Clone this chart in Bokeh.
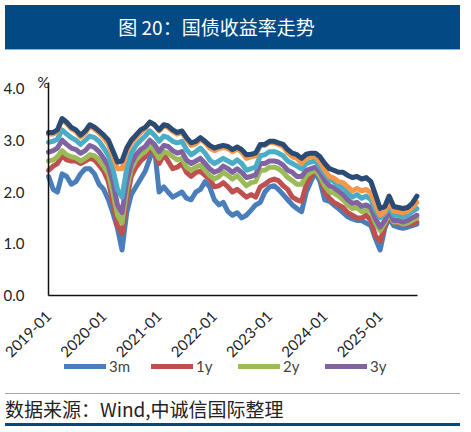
import math
import pandas as pd
from bokeh.plotting import figure
from bokeh.models import (FixedTicker, DatetimeTickFormatter, NumeralTickFormatter,
                          Legend, LegendItem, Label, Div, Range1d)
from bokeh.layouts import column
from bokeh.embed import file_html
from bokeh.resources import INLINE

# monthly points, 2019-01 .. 2025-09
dates = pd.date_range("2019-01-01", "2025-09-01", freq="MS")

y3m = [2.3, 2.05, 2.0, 2.35, 2.3, 2.15, 2.2, 2.35, 2.45, 2.45, 2.35, 2.15,
       2.05, 1.85, 1.6, 1.3, 0.88, 1.6, 1.95, 2.1, 2.25, 2.4, 2.65, 2.88,
       2.0, 2.1, 2.0, 1.9, 1.95, 2.0, 1.88, 1.85, 2.0, 2.05, 2.2, 2.1,
       1.85, 1.75, 1.8, 1.62, 1.55, 1.6, 1.5, 1.55, 1.65, 1.75, 1.8, 2.0,
       2.1, 2.12, 2.05, 1.95, 1.85, 1.75, 1.68, 1.62, 2.0, 2.2, 2.38, 2.2,
       1.85, 1.82, 1.75, 1.68, 1.6, 1.52, 1.48, 1.45, 1.45, 1.4, 1.35, 1.1,
       0.88, 1.3, 1.5, 1.35, 1.32, 1.3, 1.32, 1.35, 1.38]
y1y = [2.42, 2.5, 2.55, 2.7, 2.62, 2.6, 2.6, 2.55, 2.6, 2.65, 2.62, 2.52,
       2.4, 2.2, 1.8, 1.35, 1.2, 1.85, 2.3, 2.48, 2.6, 2.68, 2.85, 2.75,
       2.55, 2.72, 2.6, 2.45, 2.48, 2.55, 2.38, 2.3, 2.38, 2.4, 2.32, 2.25,
       2.1, 2.12, 2.18, 2.1, 2.0, 2.05, 1.98, 1.9, 1.95, 1.9, 2.1, 2.15,
       2.22, 2.25, 2.22, 2.12, 2.05, 1.9, 1.85, 1.82, 2.15, 2.3, 2.42, 2.3,
       2.0, 1.88, 1.8, 1.75, 1.7, 1.6, 1.55, 1.5, 1.5, 1.55, 1.45, 1.15,
       1.05, 1.35, 1.55, 1.42, 1.4, 1.38, 1.38, 1.38, 1.42]
y2y = [2.6, 2.62, 2.68, 2.8, 2.72, 2.68, 2.66, 2.6, 2.65, 2.72, 2.7, 2.62,
       2.5, 2.35, 2.0, 1.55, 1.4, 2.05, 2.45, 2.62, 2.72, 2.78, 2.9, 2.8,
       2.65, 2.78, 2.75, 2.68, 2.62, 2.65, 2.48, 2.42, 2.48, 2.52, 2.42, 2.32,
       2.25, 2.3, 2.38, 2.32, 2.25, 2.32, 2.22, 2.12, 2.18, 2.2, 2.42, 2.42,
       2.48, 2.48, 2.45, 2.38, 2.28, 2.22, 2.15, 2.15, 2.32, 2.38, 2.42, 2.3,
       2.12, 2.0, 1.98, 1.92, 1.85, 1.75, 1.68, 1.7, 1.62, 1.65, 1.62, 1.4,
       1.25, 1.4, 1.58, 1.42, 1.42, 1.38, 1.4, 1.45, 1.5]
y3y = [2.77, 2.8, 2.85, 3.0, 2.92, 2.85, 2.82, 2.75, 2.8, 2.9, 2.86, 2.78,
       2.65, 2.5, 2.2, 1.75, 1.6, 2.2, 2.55, 2.72, 2.82, 2.88, 3.0, 2.92,
       2.78, 2.9, 2.88, 2.8, 2.75, 2.78, 2.62, 2.55, 2.6, 2.65, 2.55, 2.45,
       2.38, 2.42, 2.5, 2.45, 2.38, 2.45, 2.38, 2.28, 2.3, 2.33, 2.55, 2.55,
       2.6, 2.6, 2.58, 2.52, 2.42, 2.38, 2.3, 2.3, 2.42, 2.45, 2.48, 2.38,
       2.22, 2.12, 2.08, 2.02, 1.95, 1.85, 1.78, 1.8, 1.72, 1.75, 1.7, 1.48,
       1.32, 1.45, 1.62, 1.45, 1.45, 1.42, 1.45, 1.5, 1.55]
y5y = [2.96, 2.98, 3.02, 3.2, 3.12, 3.05, 3.0, 2.92, 3.0, 3.08, 3.05, 2.98,
       2.85, 2.7, 2.45, 2.05, 1.9, 2.45, 2.75, 2.9, 3.0, 3.08, 3.18, 3.1,
       2.98, 3.08, 3.05, 2.98, 2.95, 2.98, 2.82, 2.72, 2.78, 2.85, 2.75, 2.62,
       2.55, 2.6, 2.65, 2.6, 2.55, 2.62, 2.55, 2.42, 2.45, 2.48, 2.7, 2.72,
       2.78, 2.78, 2.75, 2.7, 2.6, 2.55, 2.5, 2.45, 2.55, 2.58, 2.6, 2.48,
       2.35, 2.25, 2.2, 2.12, 2.08, 1.98, 1.9, 1.95, 1.88, 1.92, 1.85, 1.65,
       1.5, 1.58, 1.72, 1.55, 1.55, 1.52, 1.55, 1.62, 1.68]
y7y = [3.12, 3.12, 3.17, 3.4, 3.32, 3.22, 3.17, 3.06, 3.14, 3.27, 3.22, 3.14,
       3.05, 2.92, 2.7, 2.45, 2.45, 2.78, 2.95, 3.05, 3.15, 3.22, 3.35, 3.3,
       3.18, 3.28, 3.25, 3.17, 3.12, 3.15, 3.02, 2.9, 2.93, 3.02, 2.95, 2.85,
       2.8, 2.84, 2.86, 2.84, 2.78, 2.83, 2.77, 2.65, 2.68, 2.7, 2.9, 2.9,
       2.96, 2.95, 2.92, 2.88, 2.76, 2.68, 2.65, 2.55, 2.65, 2.68, 2.68, 2.58,
       2.42, 2.3, 2.27, 2.2, 2.18, 2.1, 2.02, 2.07, 2.02, 2.05, 1.98, 1.75,
       1.55, 1.62, 1.82, 1.63, 1.62, 1.6, 1.63, 1.7, 1.8]
y10y = [3.15, 3.15, 3.2, 3.42, 3.35, 3.25, 3.2, 3.1, 3.18, 3.3, 3.25, 3.18,
        3.1, 3.0, 2.8, 2.58, 2.6, 2.85, 3.0, 3.1, 3.2, 3.25, 3.35, 3.3,
        3.2, 3.3, 3.28, 3.2, 3.15, 3.18, 3.05, 2.95, 2.98, 3.05, 2.98, 2.9,
        2.85, 2.88, 2.9, 2.88, 2.82, 2.87, 2.82, 2.72, 2.73, 2.75, 2.92, 2.92,
        2.98, 2.98, 2.95, 2.92, 2.82, 2.75, 2.72, 2.65, 2.73, 2.75, 2.75, 2.68,
        2.55, 2.45, 2.42, 2.38, 2.38, 2.32, 2.28, 2.3, 2.25, 2.28, 2.2, 1.95,
        1.68, 1.72, 1.92, 1.72, 1.7, 1.68, 1.7, 1.78, 1.92]

series = [("3m", y3m, "#4a7ebb"), ("1y", y1y, "#c0504d"), ("2y", y2y, "#9bbb59"),
          ("3y", y3y, "#8064a2"), ("5y", y5y, "#4bacc6"), ("7y", y7y, "#f79646"),
          ("10y", y10y, "#2a4b73")]
legend_names = ["3m", "1y", "2y", "3y"]
year_ticks = [pd.Timestamp(f"{y}-01-01").value // 10**6 for y in range(2019, 2026)]
y_ticks = [0, 1, 2, 3, 4]

FONT = "Lato"

# the whole chart lives inside the frame (455 x 329), axes are pinned inside it
W, H = 455, 329
ax_left, ax_right = 48, 417          # pixel position of the axis span
ax_zero, ax_px = 240, 51.75          # pixel row of y=0 (from top), px per 1.0
x0 = pd.Timestamp("2019-01-01").value // 10**6
x1 = pd.Timestamp("2025-09-05").value // 10**6
ms_per_px = (x1 - x0) / (ax_right - ax_left)

p = figure(width=W, height=H, x_axis_type="datetime", output_backend="svg",
           toolbar_location=None,
           x_range=Range1d(x0 - ax_left * ms_per_px, x1 + (W - ax_right) * ms_per_px),
           y_range=Range1d(-(H - ax_zero) / ax_px, ax_zero / ax_px),
           min_border=0)
p.outline_line_color = None
p.xgrid.grid_line_color = None
p.ygrid.grid_line_color = None

renderers = {}
for name, vals, col in series:
    r = p.line(dates, vals, color=col, line_width=5, line_join="round", line_cap="round")
    renderers[name] = r

# axes
p.xaxis.fixed_location = 0
p.xaxis.bounds = (x0, x1)
p.xaxis.ticker = FixedTicker(ticks=year_ticks)
p.xaxis.formatter = DatetimeTickFormatter(years="%Y-%m", months="%Y-%m", days="%Y-%m")
p.xaxis.major_label_orientation = math.pi / 4
p.yaxis.fixed_location = x0
p.yaxis.bounds = (0, 4.12)
p.yaxis.ticker = FixedTicker(ticks=y_ticks)
p.yaxis.formatter = NumeralTickFormatter(format="0.0")
for ax in (p.xaxis, p.yaxis):
    ax.axis_line_color = "#111111"
    ax.axis_line_width = 1.5
    ax.major_tick_line_color = None
    ax.minor_tick_line_color = None
    ax.major_label_text_font = FONT
    ax.major_label_text_font_size = "15px"
    ax.major_label_text_color = "#222222"
p.yaxis.major_label_standoff = 18
p.xaxis.major_label_standoff = 12

p.add_layout(Label(x=x0, y=4.0, text="%", x_offset=-5, y_offset=-2, text_align="center",
                   text_baseline="bottom", text_font=FONT, text_font_size="15px",
                   text_color="#222222"))

legend = Legend(items=[LegendItem(label=n, renderers=[renderers[n]]) for n in legend_names],
                orientation="horizontal", location=(64, 9), glyph_width=42, glyph_height=14,
                label_standoff=3, spacing=12, label_width=30, padding=0, margin=0,
                border_line_color=None, background_fill_alpha=0,
                label_text_font=FONT, label_text_font_size="15px")
p.add_layout(legend)

title = Div(text="图 20：国债收益率走势", width=455, height=45,
            styles={"background-color": "#034a85", "color": "white",
                    "font-family": "Noto Sans CJK SC", "font-size": "19px",
                    "text-align": "center", "line-height": "44px",
                    "padding-right": "32px", "box-sizing": "border-box",
                    "border-bottom": "1px solid #8fb0d8"})

src_html = ('<div style="width:455px;height:42px;box-sizing:border-box;padding-top:4px;">'
            '<div style="border-top:1px solid #a6a6a6;height:30px;line-height:30px;'
            'font-size:19px;color:#222;font-family:\'Noto Sans CJK SC\';">'
            '数据来源：Wind,中诚信国际整理</div>'
            '<div style="height:3px;background:#034a85;"></div></div>')
source = Div(text=src_html, width=455, height=42)

layout = column(title, p, source)
open("out.html", "w").write(file_html(layout, INLINE))
